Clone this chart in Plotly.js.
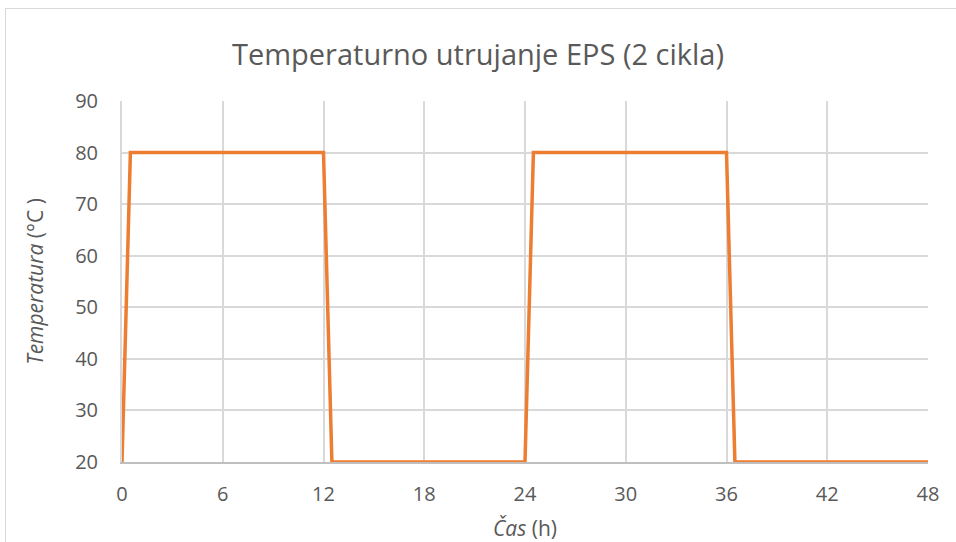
<!DOCTYPE html>
<html><head><meta charset="utf-8">
<script src="https://cdn.plot.ly/plotly-3.0.1.min.js"></script>
<style>
html,body{margin:0;padding:0;background:#fff;overflow:hidden;}
#frame{position:absolute;left:5px;top:8px;width:1000px;height:600px;border:1px solid #d9d9d9;box-sizing:border-box;}
#chart{position:absolute;left:0;top:0;width:956px;height:542px;}
</style></head>
<body>
<div id="frame"></div>
<div id="chart"></div>
<script>
const timeHours = [0, 0.5, 12, 12.5, 24, 24.5, 36, 36.5, 48];
const temperatureC = [20, 80, 80, 20, 20, 80, 80, 20, 20];
const xTicks = [0, 6, 12, 18, 24, 30, 36, 42, 48];
const yTicks = [20, 30, 40, 50, 60, 70, 80, 90];

const fontFam = '"Open Sans", "DejaVu Sans", sans-serif';
const data = [{
  x: timeHours, y: temperatureC, type: 'scatter', mode: 'lines',
  line: {color: '#ED7D31', width: 3.5}, hoverinfo: 'skip'
}];
const layout = {
  width: 956, height: 542,
  margin: {l: 122, r: 28, t: 101, b: 80},
  paper_bgcolor: 'rgba(0,0,0,0)', plot_bgcolor: 'rgba(0,0,0,0)',
  showlegend: false,
  font: {family: fontFam, color: '#595959'},
  title: {text: 'Temperaturno utrujanje EPS (2 cikla)', x: 0.5, xanchor: 'center', y: 0.898, yanchor: 'middle',
          font: {family: fontFam, size: 29, color: '#595959'}},
  xaxis: {
    range: [0, 48], tickvals: xTicks, ticktext: xTicks.map(String),
    showgrid: true, gridcolor: '#d9d9d9', gridwidth: 2,
    showline: true, linecolor: '#bfbfbf', linewidth: 2,
    zeroline: false, ticks: '', ticklabelstandoff: 13,
    tickfont: {family: fontFam, size: 20, color: '#595959'},
    title: {text: '<i>Čas</i> (h)', standoff: 16, font: {family: fontFam, size: 21, color: '#595959'}}
  },
  yaxis: {
    range: [20, 90], tickvals: yTicks, ticktext: yTicks.map(String),
    showgrid: true, gridcolor: '#d9d9d9', gridwidth: 2,
    showline: true, linecolor: '#d9d9d9', linewidth: 2,
    zeroline: false, ticks: '', ticklabelstandoff: 18,
    tickfont: {family: fontFam, size: 20, color: '#595959'},
    title: {text: '<i>Temperatura</i> (°C )', standoff: 26, font: {family: fontFam, size: 21, color: '#595959'}}
  }
};
Plotly.newPlot('chart', data, layout, {displayModeBar: false, staticPlot: true});
</script>
</body></html>
